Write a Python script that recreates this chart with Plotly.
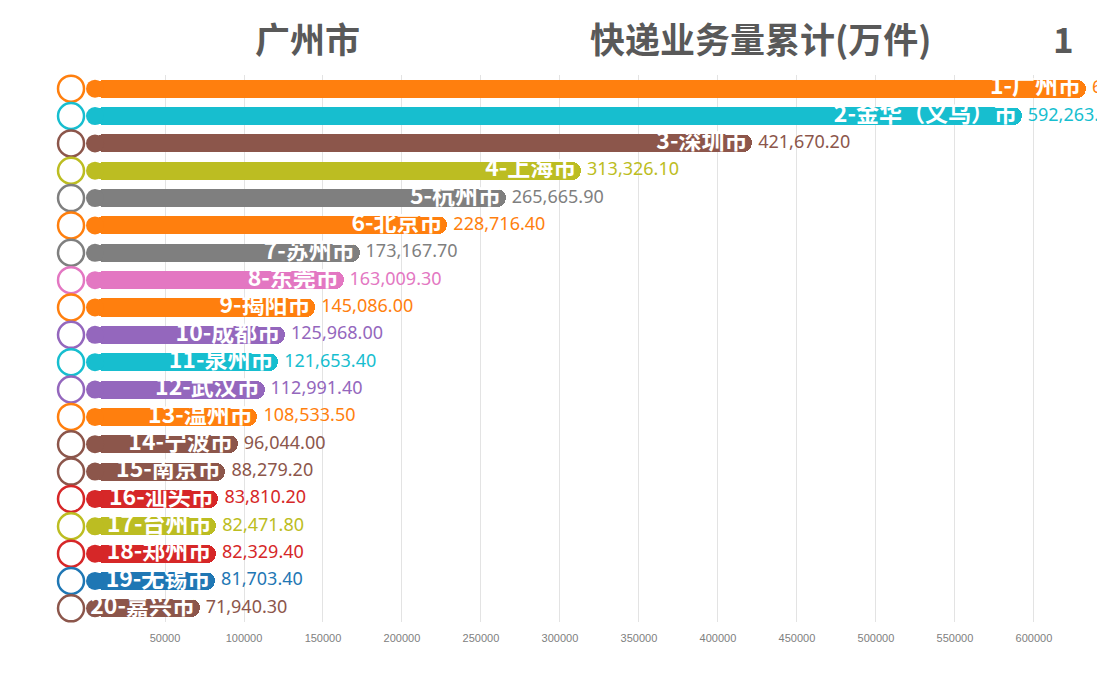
import plotly.graph_objects as go

ranks = list(range(1, 21))
cities = ["广州市", "金华（义乌）市", "深圳市", "上海市", "杭州市", "北京市", "苏州市", "东莞市",
          "揭阳市", "成都市", "泉州市", "武汉市", "温州市", "宁波市", "南京市", "汕头市",
          "台州市", "郑州市", "无锡市", "嘉兴市"]
values = [632900.00, 592263.10, 421670.20, 313326.10, 265665.90, 228716.40, 173167.70, 163009.30,
          145086.00, 125968.00, 121653.40, 112991.40, 108533.50, 96044.00, 88279.20, 83810.20,
          82471.80, 82329.40, 81703.40, 71940.30]
colors = ["#ff7f0e", "#17becf", "#8c564b", "#bcbd22", "#7f7f7f", "#ff7f0e", "#7f7f7f", "#e377c2",
          "#ff7f0e", "#9467bd", "#17becf", "#9467bd", "#ff7f0e", "#8c564b", "#8c564b", "#d62728",
          "#bcbd22", "#d62728", "#1f77b4", "#8c564b"]
tick_vals = [50000, 100000, 150000, 200000, 250000, 300000, 350000, 400000, 450000, 500000, 550000, 600000]
tick_text = [str(v) for v in tick_vals]

title_left = "广州市"
title_mid = "快递业务量累计(万件)"
title_right = "1"

# page body has an 8px margin; compensate so the plot lands where the reference has it
OFF = 8
W, H = 1105 - OFF, 691 - OFF
L, R, T, B = 50 - OFF, 0, 75 - OFF, 69
pw, ph = W - L - R, H - T - B

X_RANGE = [-22800, 645000]
UNITS_PER_PX = (X_RANGE[1] - X_RANGE[0]) / pw
BAR_PX = 18
CAP = BAR_PX / 2 * UNITS_PER_PX          # left rounded cap radius in data units
CIRCLE_X = -15 * UNITS_PER_PX

labels = [f"{r}-{c}" for r, c in zip(ranks, cities)]
value_text = [f"{v:,.2f}" for v in values]

fig = go.Figure()
fig.add_trace(go.Bar(
    x=[v - CAP for v in values], base=CAP, y=ranks, orientation="h", width=0.66,
    marker=dict(color=colors, cornerradius=9, line=dict(width=0)),
    hoverinfo="skip", showlegend=False,
))
fig.add_trace(go.Scatter(
    x=[CAP] * len(ranks), y=ranks, mode="markers",
    marker=dict(size=BAR_PX, color=colors, line=dict(width=0)),
    hoverinfo="skip", showlegend=False, cliponaxis=False,
))
fig.add_trace(go.Scatter(
    x=values, y=ranks, mode="markers+text", text=labels, textposition="middle left",
    marker=dict(size=6, opacity=0),
    textfont=dict(color="white", size=23, family="Noto Sans CJK SC", weight="bold"),
    hoverinfo="skip", showlegend=False, cliponaxis=False,
))
fig.add_trace(go.Scatter(
    x=values, y=ranks, mode="markers+text", text=value_text, textposition="middle right",
    marker=dict(size=8, opacity=0),
    textfont=dict(color=colors, size=18, family="Noto Sans"),
    hoverinfo="skip", showlegend=False,
))
fig.add_trace(go.Scatter(
    x=[CIRCLE_X] * len(ranks), y=ranks, mode="markers",
    marker=dict(size=26, color="white", line=dict(color=colors, width=2.5)),
    hoverinfo="skip", showlegend=False, cliponaxis=False,
))

def px(xp):
    return (xp - OFF - L) / pw

def py(yp):
    return (H - B - (yp - OFF)) / ph

title_font = dict(family="Noto Sans CJK SC", size=35, color="#595959", weight="bold")
for txt, xp in [(title_left, 307), (title_mid, 760), (title_right, 1063)]:
    fig.add_annotation(text=txt, x=px(xp), y=py(37), xref="paper", yref="paper",
                       xanchor="center", yanchor="middle", showarrow=False, font=title_font)

fig.update_layout(
    width=W, height=H, margin=dict(l=L, r=R, t=T, b=B),
    plot_bgcolor="white", paper_bgcolor="white",
    bargap=0,
    xaxis=dict(range=X_RANGE, tickvals=tick_vals, ticktext=tick_text, showgrid=True,
               gridcolor="#e3e3e3", gridwidth=1, zeroline=False, showline=False,
               ticks="outside", ticklen=6, tickcolor="rgba(0,0,0,0)",
               tickfont=dict(size=11, color="#808080", family="Liberation Sans Narrow, Arial Narrow, sans-serif")),
    yaxis=dict(range=[20.5, 0.5], showticklabels=False, showgrid=False, zeroline=False,
               showline=False),
)

fig.write_html("out.html")
